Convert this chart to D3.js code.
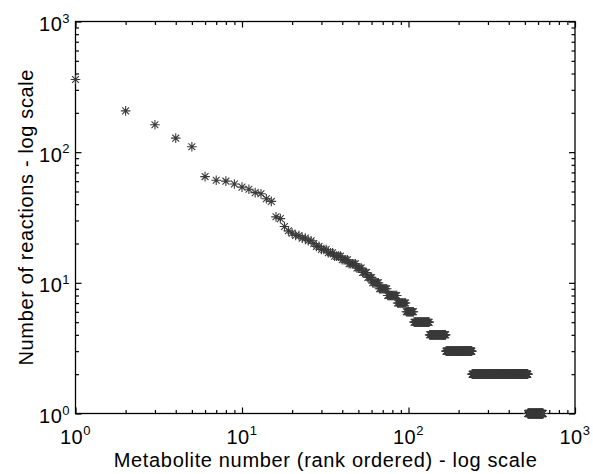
<!DOCTYPE html>
<html>
<head>
<meta charset="utf-8">
<script src="https://cdn.jsdelivr.net/npm/d3@7"></script>
<style>
  html, body { margin: 0; padding: 0; background: #fff; }
  svg { display: block; }
  text { font-family: "Liberation Sans", Arial, Helvetica, sans-serif; fill: #000; }
</style>
</head>
<body>
<svg id="chart" width="593" height="474"></svg>
<script>
// Distinct reaction counts, highest first, and how many metabolites share each count.
const reactionLevels = [360, 207, 162, 128, 110, 65, 61, 60, 57, 54, 52, 49, 48, 44, 42,
  32, 31, 27, 25, 24, 23, 22, 21, 20, 19, 18, 17, 16, 15, 14, 13, 12, 11, 10, 9, 8, 7, 6,
  5, 4, 3, 2, 1];
const metaboliteCounts = [1, 1, 1, 1, 1, 1, 1, 1, 1, 1, 1, 1, 1, 1, 1,
  1, 1, 1, 1, 1, 2, 2, 2, 1, 2, 3, 3, 4, 4, 5, 4, 4, 4, 6, 8, 11, 11, 11,
  26, 34, 73, 280, 123];

const decadeTicks = [1, 10, 100, 1000];
const decadeExponents = ["0", "1", "2", "3"];
const xTitle = "Metabolite number (rank ordered) - log scale";
const yTitle = "Number of reactions - log scale";

// Expand the level table into one point per metabolite, ranked 1..N.
const points = [];
reactionLevels.forEach((v, i) => {
  for (let k = 0; k < metaboliteCounts[i]; k++) {
    points.push({ rank: points.length + 1, reactions: v });
  }
});

const svg = d3.select("#chart");
const W = 593, H = 474;
const plotLeft = 75.5, plotRight = 575, plotTop = 21.5, plotBottom = 413.5;

svg.append("rect").attr("width", W).attr("height", H).attr("fill", "#fff");

const x = d3.scaleLog().domain([1, 1000]).range([plotLeft, plotRight]);
const y = d3.scaleLog().domain([1, 1000]).range([plotBottom, plotTop]);

// Minor tick positions 2..9 within every decade
const minorTicks = [];
[1, 10, 100].forEach(d => { for (let m = 2; m <= 9; m++) minorTicks.push(d * m); });

function tickAxis(axisFn, scale, values, size, transform) {
  const g = svg.append("g")
    .attr("transform", transform)
    .call(axisFn(scale).tickValues(values).tickSizeInner(-size).tickSizeOuter(0).tickFormat(""));
  g.select(".domain").remove();
  g.selectAll(".tick line").attr("stroke", "#000").attr("stroke-width", 1.2);
  return g;
}

// Inward ticks on all four sides
[[d3.axisBottom, x, `translate(0,${plotBottom})`],
 [d3.axisTop, x, `translate(0,${plotTop})`],
 [d3.axisLeft, y, `translate(${plotLeft},0)`],
 [d3.axisRight, y, `translate(${plotRight},0)`]].forEach(([fn, sc, tr]) => {
  tickAxis(fn, sc, decadeTicks, 6, tr);
  tickAxis(fn, sc, minorTicks, 3.5, tr);
});

// Plot box
svg.append("rect")
  .attr("x", plotLeft).attr("y", plotTop)
  .attr("width", plotRight - plotLeft).attr("height", plotBottom - plotTop)
  .attr("fill", "none").attr("stroke", "#000").attr("stroke-width", 1.3);

// Asterisk markers
const r = 4.8, dg = 3.4;
const star = `M${-r},0H${r}M0,${-r}V${r}M${-dg},${-dg}L${dg},${dg}M${-dg},${dg}L${dg},${-dg}`;
svg.append("g")
  .selectAll("path")
  .data(points)
  .join("path")
  .attr("transform", d => `translate(${x(d.rank)},${y(d.reactions)})`)
  .attr("d", star)
  .attr("fill", "none")
  .attr("stroke", "#3a3a3a")
  .attr("stroke-width", 1.1);

// Decade labels with superscript exponents
const labelSize = 20, expSize = 13;
decadeTicks.forEach((t, i) => {
  const tx = svg.append("text")
    .attr("x", x(t)).attr("y", plotBottom + 30)
    .attr("text-anchor", "middle")
    .attr("font-size", labelSize)
    .style("letter-spacing", "0.5px");
  tx.append("tspan").text("10");
  tx.append("tspan").attr("dy", -8.5).attr("font-size", expSize).text(decadeExponents[i]);

  const ty = svg.append("text")
    .attr("x", 70).attr("y", y(t) + 9.5)
    .attr("text-anchor", "end")
    .attr("font-size", labelSize)
    .style("letter-spacing", "0.5px");
  ty.append("tspan").text("10");
  ty.append("tspan").attr("dy", -8.5).attr("font-size", expSize).text(decadeExponents[i]);
});

// Axis titles
svg.append("text")
  .attr("x", (plotLeft + plotRight) / 2).attr("y", 467)
  .attr("text-anchor", "middle")
  .attr("font-size", 20)
  .attr("textLength", 423).attr("lengthAdjust", "spacing")
  .text(xTitle);

svg.append("text")
  .attr("transform", `translate(33,${(plotTop + plotBottom) / 2}) rotate(-90)`)
  .attr("text-anchor", "middle")
  .attr("font-size", 20)
  .attr("textLength", 296).attr("lengthAdjust", "spacing")
  .text(yTitle);
</script>
</body>
</html>
